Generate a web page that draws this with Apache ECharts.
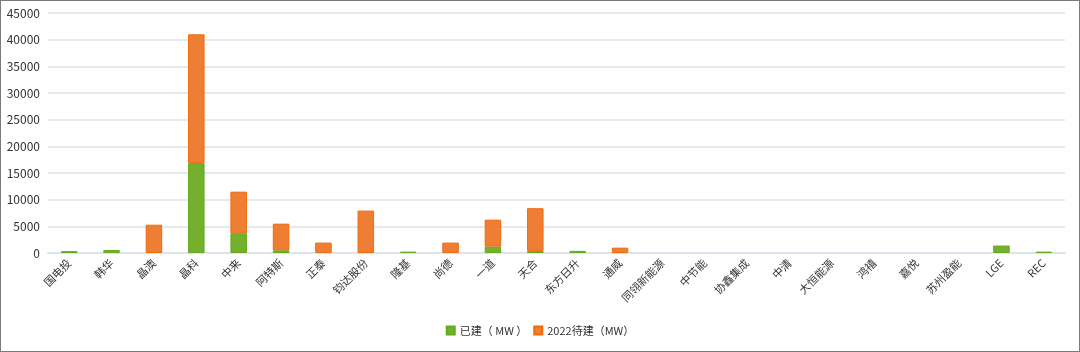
<!DOCTYPE html>
<html>
<head>
<meta charset="utf-8">
<script src="https://cdn.jsdelivr.net/npm/echarts@6/dist/echarts.min.js"></script>
<style>
  html, body { margin: 0; padding: 0; background: #fff; }
  #chart { width: 1078px; height: 350px; border: 1px solid #7a7a7a; }
</style>
</head>
<body>
<div id="chart"></div>
<script>
// 企业名称
const companies = ['国电投', '韩华', '晶澳', '晶科', '中来', '阿特斯', '正泰', '钧达股份', '隆基', '尚德',
  '一道', '天合', '东方日升', '通威', '同翎新能源', '中节能', '协鑫集成', '中清', '大恒能源', '鸿禧',
  '嘉悦', '苏州盈能', 'LGE', 'REC']
// 已建 (MW)
const built = [350, 550, 0, 16900, 3600, 500, 0, 0, 250, 0,
  1200, 400, 400, 0, 0, 0, 0, 0, 0, 0,
  0, 0, 1400, 250]
// 2022待建 (MW)
const planned = [0, 0, 5300, 24100, 7900, 5000, 1950, 7950, 0, 1950,
  5050, 8000, 0, 1000, 0, 0, 0, 0, 0, 0,
  0, 0, 0, 0]
const yTicks = [0, 5000, 10000, 15000, 20000, 25000, 30000, 35000, 40000, 45000]

// 0 值不画柱子(否则会留下描边细线)
const noZero = arr => arr.map(v => (v === 0 ? null : v))

const chart = echarts.init(document.getElementById('chart'))

chart.setOption({
  backgroundColor: '#FFFFFF',
  textStyle: { fontFamily: '"Noto Sans CJK SC", "Noto Sans", sans-serif' },
  legend: {
    bottom: 10,
    left: 'center',
    itemWidth: 8,
    itemHeight: 8,
    itemGap: 6,
    icon: 'rect',
    textStyle: { fontSize: 11, color: '#333' },
    data: ['已建（ MW ）', '2022待建（MW）']
  },
  grid: {
    left: 47,
    right: 14,
    top: 12,
    bottom: 98
  },
  xAxis: {
    type: 'category',
    data: companies,
    axisTick: { show: false },
    axisLine: { lineStyle: { color: '#dde3ec', width: 2 } },
    axisLabel: {
      interval: 0,
      rotate: 45,
      fontSize: 11,
      color: '#333',
      margin: 8
    }
  },
  yAxis: {
    type: 'value',
    min: yTicks[0],
    max: yTicks[yTicks.length - 1],
    interval: 5000,
    axisLine: { show: false },
    axisTick: { show: false },
    splitLine: { lineStyle: { color: '#dde3ec', width: 1.5 } },
    axisLabel: { fontSize: 12, color: '#333', margin: 8, formatter: v => String(v) }
  },
  series: [
    {
      name: '已建（ MW ）',
      type: 'bar',
      stack: 'total',
      barWidth: '39%',
      data: noZero(built),
      itemStyle: { color: '#74b02e', borderColor: '#62ab1c', borderWidth: 1 }
    },
    {
      name: '2022待建（MW）',
      type: 'bar',
      stack: 'total',
      barWidth: '39%',
      data: noZero(planned),
      itemStyle: { color: '#ee7e33', borderColor: '#f26a0c', borderWidth: 1 }
    }
  ]
})
</script>
</body>
</html>
